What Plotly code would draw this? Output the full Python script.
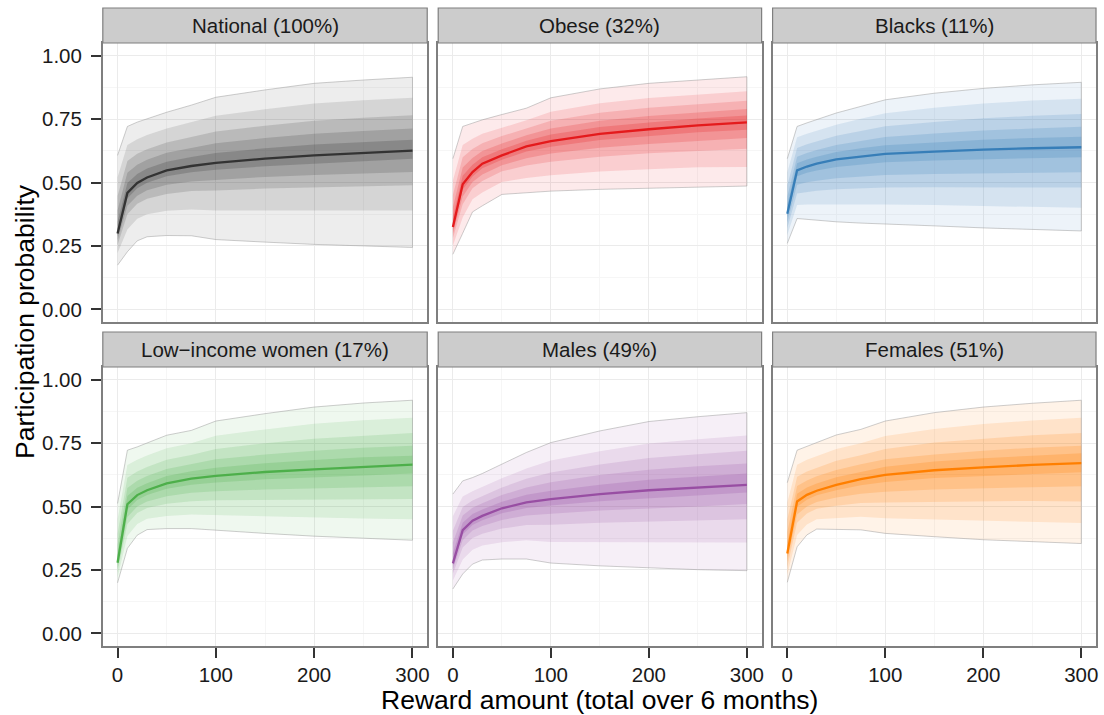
import plotly.graph_objects as go

# ---------------- data ----------------
REWARD = [0, 10, 20, 30, 50, 75, 100, 150, 200, 250, 300]
PANEL_TITLES = ["National (100%)", "Obese (32%)", "Blacks (11%)",
                "Low\u2212income women (17%)", "Males (49%)", "Females (51%)"]
PANEL_COLORS = ["#333333", "#E41A1C", "#377EB8", "#4DAF4A", "#984EA3", "#FF7F00"]
Y_TICKS = [0, 0.25, 0.5, 0.75, 1.0]
X_TICKS = [0, 100, 200, 300]

# lower / upper bounds: outer band first, innermost last
national_median = [.299, .459, .498, .520, .548, .565, .577, .594, .607, .617, .626]
national_lower = [
    [.174, .227, .270, .286, .291, .290, .275, .265, .256, .250, .244],
    [.222, .315, .357, .375, .389, .394, .390, .390, .389, .389, .390],
    [.254, .375, .416, .436, .455, .466, .468, .476, .481, .485, .489],
    [.272, .408, .448, .469, .491, .504, .511, .522, .530, .536, .541],
    [.288, .438, .477, .499, .525, .540, .550, .564, .575, .584, .594],
]
national_upper = [
    [.607, .721, .738, .752, .777, .805, .836, .865, .891, .904, .915],
    [.521, .648, .671, .687, .713, .738, .763, .789, .811, .824, .834],
    [.447, .585, .613, .631, .658, .680, .701, .724, .743, .755, .765],
    [.391, .538, .570, .590, .617, .637, .655, .675, .692, .703, .713],
    [.345, .498, .534, .555, .582, .601, .616, .635, .650, .660, .669],
]

obese_median = [.325, .493, .541, .574, .607, .642, .663, .692, .710, .725, .737]
obese_lower = [
    [.217, .300, .384, .408, .453, .460, .466, .473, .478, .482, .486],
    [.252, .362, .434, .461, .502, .518, .529, .543, .552, .560, .561],
    [.281, .414, .477, .506, .544, .567, .582, .602, .615, .625, .633],
    [.298, .445, .502, .532, .568, .596, .614, .637, .652, .664, .675],
    [.313, .472, .524, .556, .590, .622, .641, .668, .684, .698, .708],
]
obese_upper = [
    [.594, .721, .734, .747, .768, .793, .834, .869, .891, .904, .917],
    [.508, .648, .672, .692, .716, .745, .779, .812, .833, .847, .860],
    [.451, .600, .632, .655, .683, .713, .743, .775, .795, .809, .822],
    [.403, .559, .597, .624, .654, .686, .713, .743, .762, .777, .790],
    [.365, .527, .570, .600, .631, .665, .689, .719, .737, .752, .764],
]

blacks_median = [.377, .548, .563, .574, .591, .603, .613, .622, .630, .635, .639]
blacks_lower = [
    [.260, .358, .355, .351, .345, .340, .335, .329, .321, .314, .309],
    [.293, .411, .413, .413, .414, .414, .413, .411, .408, .404, .400],
    [.321, .457, .463, .467, .473, .477, .480, .481, .482, .481, .480],
    [.342, .491, .501, .507, .517, .524, .530, .534, .537, .539, .540],
    [.363, .525, .538, .547, .561, .571, .580, .587, .593, .596, .600],
]
blacks_upper = [
    [.594, .721, .735, .748, .774, .800, .826, .852, .871, .885, .895],
    [.540, .678, .692, .705, .728, .751, .773, .795, .811, .823, .830],
    [.488, .636, .651, .663, .684, .703, .722, .739, .753, .763, .770],
    [.444, .602, .616, .628, .648, .664, .679, .693, .705, .713, .720],
    [.412, .576, .591, .602, .620, .635, .647, .659, .669, .675, .680],
]

lowinc_median = [.278, .509, .545, .564, .591, .610, .621, .636, .646, .656, .665]
lowinc_lower = [
    [.199, .335, .387, .409, .413, .413, .407, .394, .383, .374, .367],
    [.221, .384, .431, .452, .463, .468, .467, .462, .457, .453, .450],
    [.242, .431, .474, .494, .511, .521, .525, .527, .528, .529, .530],
    [.255, .459, .500, .520, .540, .554, .560, .567, .571, .576, .580],
    [.269, .488, .526, .545, .570, .586, .595, .607, .614, .622, .630],
]
lowinc_upper = [
    [.512, .722, .735, .751, .781, .800, .837, .866, .892, .908, .919],
    [.449, .664, .684, .701, .730, .749, .779, .804, .826, .840, .850],
    [.393, .613, .638, .656, .684, .703, .727, .749, .767, .779, .790],
    [.348, .573, .602, .620, .648, .667, .686, .705, .720, .732, .740],
    [.313, .541, .574, .592, .620, .639, .653, .671, .683, .694, .700],
]

males_median = [.276, .407, .444, .463, .493, .516, .529, .549, .564, .575, .585]
males_lower = [
    [.175, .234, .273, .289, .293, .293, .277, .266, .257, .251, .247],
    [.208, .291, .329, .346, .359, .367, .360, .359, .358, .358, .358],
    [.236, .338, .376, .393, .413, .427, .428, .436, .441, .445, .450],
    [.253, .367, .405, .423, .447, .465, .471, .484, .493, .500, .510],
    [.266, .390, .427, .446, .473, .494, .504, .521, .533, .543, .555],
]
males_upper = [
    [.549, .601, .614, .630, .667, .713, .752, .798, .835, .854, .870],
    [.462, .539, .560, .577, .611, .650, .681, .718, .748, .765, .780],
    [.404, .498, .524, .541, .575, .609, .634, .666, .691, .706, .720],
    [.358, .465, .495, .513, .545, .575, .596, .624, .645, .659, .670],
    [.317, .436, .470, .488, .519, .546, .562, .586, .605, .617, .630],
]

females_median = [.315, .520, .546, .562, .585, .608, .625, .643, .654, .664, .671]
females_lower = [
    [.201, .341, .388, .411, .411, .408, .394, .381, .369, .361, .354],
    [.231, .388, .429, .450, .456, .460, .454, .449, .443, .440, .435],
    [.261, .436, .472, .491, .503, .514, .516, .520, .520, .522, .520],
    [.282, .468, .500, .518, .535, .550, .558, .567, .571, .576, .580],
    [.301, .499, .527, .544, .564, .584, .597, .612, .620, .628, .635],
]
females_upper = [
    [.594, .722, .737, .752, .782, .804, .837, .870, .892, .907, .919],
    [.516, .665, .684, .699, .727, .749, .778, .806, .825, .839, .850],
    [.449, .617, .638, .653, .680, .702, .727, .752, .768, .781, .790],
    [.399, .581, .603, .619, .644, .667, .686, .705, .720, .732, .740],
    [.357, .550, .575, .591, .615, .637, .657, .677, .690, .700, .710],
]

PANEL_DATA = [
    (national_median, national_lower, national_upper),
    (obese_median, obese_lower, obese_upper),
    (blacks_median, blacks_lower, blacks_upper),
    (lowinc_median, lowinc_lower, lowinc_upper),
    (males_median, males_lower, males_upper),
    (females_median, females_lower, females_upper),
]

# ---------------- styling ----------------
W, H = 1104, 715
FONT = "Liberation Sans, Arial, Helvetica, sans-serif"
BAND_ALPHA = [0.09, 0.13, 0.16, 0.19, 0.22]

COL_PX = [(103, 428), (439, 763), (774, 1098)]
ROW_PX = [(43, 322), (367, 646)]       # plot area (top, bottom) in px
STRIP_PX = [(8, 43), (332, 367)]


def px_x(p):
    return p / W


def px_y(p):
    return 1 - p / H


def rgba(hex_color, a):
    h = hex_color.lstrip("#")
    r, g, b = int(h[0:2], 16), int(h[2:4], 16), int(h[4:6], 16)
    return f"rgba({r},{g},{b},{a})"


fig = go.Figure()
layout_axes = {}
shapes = []
annotations = []

for i, (title, color, (med, lowers, uppers)) in enumerate(zip(PANEL_TITLES, PANEL_COLORS, PANEL_DATA)):
    row, col = divmod(i, 3)
    n = "" if i == 0 else str(i + 1)
    xa, ya = "x" + n, "y" + n

    for lvl, (lo, hi) in enumerate(zip(lowers, uppers)):
        outer = lvl == 0
        fig.add_trace(go.Scatter(
            x=REWARD + REWARD[::-1],
            y=hi + lo[::-1],
            mode="lines",
            fill="toself",
            fillcolor=rgba(color, BAND_ALPHA[lvl]),
            line=dict(color="rgba(150,150,150,0.6)" if outer else "rgba(0,0,0,0)",
                      width=0.8 if outer else 0),
            hoverinfo="skip",
            showlegend=False,
            xaxis=xa, yaxis=ya,
        ))
    fig.add_trace(go.Scatter(
        x=REWARD, y=med, mode="lines",
        line=dict(color=color, width=2.3),
        showlegend=False, xaxis=xa, yaxis=ya,
    ))

    x0, x1 = COL_PX[col]
    top, bottom = ROW_PX[row]
    bottom_row = row == 1
    left_col = col == 0

    layout_axes["xaxis" + n] = dict(
        domain=[px_x(x0), px_x(x1)], anchor=ya, range=[-15, 315],
        tickvals=X_TICKS, ticktext=[str(v) for v in X_TICKS],
        showticklabels=bottom_row, ticks="outside" if bottom_row else "",
        ticklen=10, tickwidth=2, tickcolor="#333333", ticklabelstandoff=0,
        tickfont=dict(family=FONT, size=20.5, color="#1a1a1a"),
        showgrid=True, gridcolor="#EBEBEB", gridwidth=1,
        minor=dict(tickvals=[50, 150, 250], showgrid=True, gridcolor="#F6F6F6", gridwidth=1),
        zeroline=False, showline=True, mirror=True, linecolor="#7F7F7F", linewidth=1.6,
    )
    layout_axes["yaxis" + n] = dict(
        domain=[px_y(bottom), px_y(top)], anchor=xa, range=[-0.05, 1.05],
        tickvals=Y_TICKS, ticktext=[f"{v:.2f}" for v in Y_TICKS],
        showticklabels=left_col, ticks="outside" if left_col else "",
        ticklen=10, tickwidth=2, tickcolor="#333333", ticklabelstandoff=5,
        tickfont=dict(family=FONT, size=20.5, color="#1a1a1a"),
        showgrid=True, gridcolor="#EBEBEB", gridwidth=1,
        minor=dict(tickvals=[0.125, 0.375, 0.625, 0.875], showgrid=True, gridcolor="#F6F6F6", gridwidth=1),
        zeroline=False, showline=True, mirror=True, linecolor="#7F7F7F", linewidth=1.6,
    )

    s_top, s_bot = STRIP_PX[row]
    shapes.append(dict(
        type="rect", xref="paper", yref="paper",
        x0=px_x(x0), x1=px_x(x1), y0=px_y(s_bot), y1=px_y(s_top),
        fillcolor="#CCCCCC", line=dict(color="#7F7F7F", width=1.2), layer="above",
    ))
    annotations.append(dict(
        xref="paper", yref="paper", x=px_x((x0 + x1) / 2), y=px_y((s_top + s_bot) / 2),
        text=title, showarrow=False, xanchor="center", yanchor="middle",
        font=dict(family=FONT, size=20.5, color="#1a1a1a"),
    ))

annotations.append(dict(
    xref="paper", yref="paper", x=px_x(600.5), y=px_y(699.5),
    text="Reward amount (total over 6 months)", showarrow=False,
    xanchor="center", yanchor="middle",
    font=dict(family=FONT, size=26.5, color="#000000"),
))
annotations.append(dict(
    xref="paper", yref="paper", x=px_x(25), y=px_y(321),
    text="Participation probability", showarrow=False, textangle=-90,
    xanchor="center", yanchor="middle",
    font=dict(family=FONT, size=26.5, color="#000000"),
))

fig.update_layout(
    width=W, height=H,
    margin=dict(l=0, r=0, t=0, b=0),
    paper_bgcolor="white", plot_bgcolor="white",
    showlegend=False,
    shapes=shapes, annotations=annotations,
    font=dict(family=FONT),
    **layout_axes,
)

fig.write_html("out.html")
